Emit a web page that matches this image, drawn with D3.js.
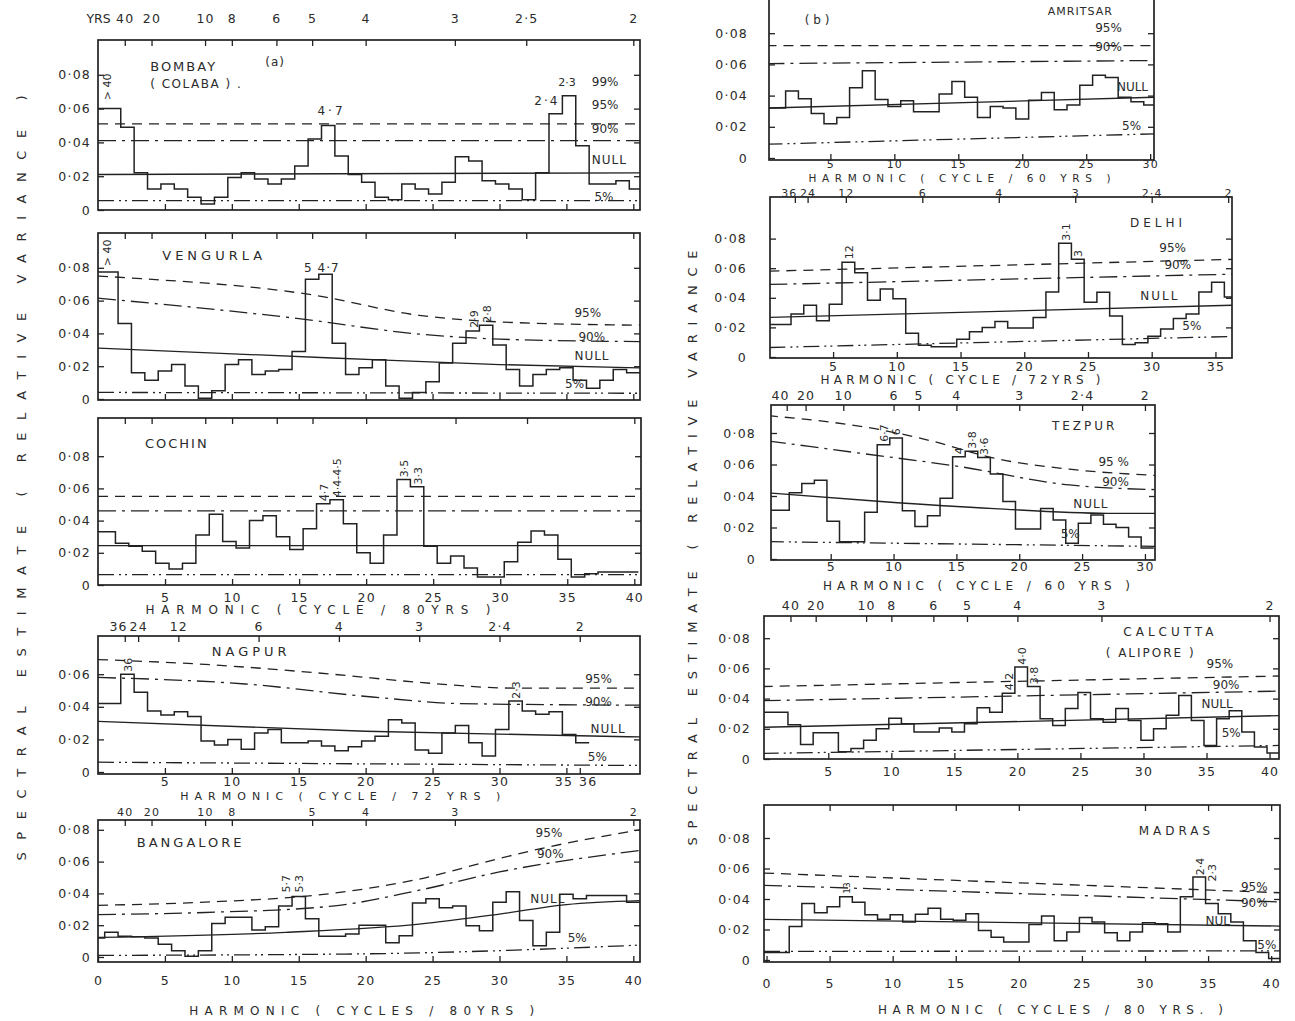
<!DOCTYPE html>
<html lang="en">
<head>
<meta charset="utf-8">
<title>Spectral estimates of rainfall series</title>
<script src="https://cdn.jsdelivr.net/npm/d3@7"></script>
<style>
  body { margin: 0; background: #fff; }
  svg { display: block; }
  text { font-family: "DejaVu Sans", sans-serif; fill: #2b2b2b; }
  .frame { fill: none; stroke: #222; stroke-width: 1.7; }
  .spec { fill: none; stroke: #222; stroke-width: 1.5; }
  .ln { fill: none; stroke: #222; stroke-width: 1.3; }
  .l95 { stroke-dasharray: 10,7; }
  .l90 { stroke-dasharray: 18,6,3,6; }
  .l5 { stroke-dasharray: 16,5,2,4,2,5; }
  .axis path.domain { display: none; }
  .axis line { stroke: #222; stroke-width: 1.3; }
  .axis text { font-size: 12.5px; letter-spacing: 1.2px; fill: #2b2b2b; }
  .axis.small text { font-size: 11px; }
  .htitle { font-size: 12px; }
  .ylab { font-size: 13px; }
</style>
</head>
<body>
<svg width="1295" height="1021"></svg>
<script>

// ---- spectral estimates, one value per harmonic ----
var bombaySpec = [0.060, 0.049, 0.022, 0.0124, 0.0154, 0.0124, 0.0075, 0.0035, 0.0075, 0.0193,
  0.022, 0.0183, 0.0154, 0.0183, 0.026, 0.042, 0.050, 0.032, 0.021, 0.0164,
  0.0075, 0.006, 0.0154, 0.0124, 0.0095, 0.0164, 0.0315, 0.029, 0.0173, 0.0154,
  0.0124, 0.006, 0.022, 0.057, 0.0676, 0.038, 0.0154, 0.0154, 0.0173, 0.0124];
var vengurlaSpec = [0.0775, 0.046, 0.016, 0.0115, 0.017, 0.021, 0.008, 0.0005, 0.005, 0.021,
  0.024, 0.015, 0.017, 0.018, 0.029, 0.073, 0.076, 0.034, 0.015, 0.019,
  0.024, 0.008, 0.0005, 0.004, 0.0105, 0.022, 0.034, 0.0415, 0.045, 0.033,
  0.018, 0.008, 0.015, 0.018, 0.019, 0.0115, 0.0065, 0.0115, 0.018, 0.016];
var cochinSpec = [0.033, 0.026, 0.024, 0.021, 0.0135, 0.010, 0.0135, 0.031, 0.044, 0.027,
  0.023, 0.040, 0.043, 0.030, 0.022, 0.035, 0.0505, 0.053, 0.038, 0.020,
  0.0135, 0.031, 0.0655, 0.061, 0.024, 0.0135, 0.018, 0.0105, 0.005, 0.005,
  0.0145, 0.0265, 0.0335, 0.031, 0.016, 0.005, 0.007, 0.008, 0.008, 0.008];
var nagpurSpec = [0.042, 0.060, 0.049, 0.0375, 0.035, 0.037, 0.034, 0.019, 0.0165, 0.020,
  0.014, 0.024, 0.026, 0.018, 0.018, 0.019, 0.016, 0.013, 0.0155, 0.019,
  0.022, 0.032, 0.030, 0.0135, 0.0115, 0.024, 0.0285, 0.018, 0.0098, 0.026,
  0.0435, 0.0375, 0.0355, 0.037, 0.023, 0.018];
var bangaloreSpec = [0.012, 0.0155, 0.013, 0.0127, 0.012, 0.008, 0.004, 0.0005, 0.004, 0.021,
  0.025, 0.025, 0.017, 0.019, 0.032, 0.038, 0.024, 0.013, 0.013, 0.0145,
  0.020, 0.020, 0.009, 0.0133, 0.034, 0.0366, 0.031, 0.032, 0.0197, 0.0165,
  0.0345, 0.041, 0.023, 0.007, 0.0155, 0.0395, 0.0366, 0.0387, 0.0387, 0.0387, 0.0345];
var amritsarSpec = [0.032, 0.043, 0.038, 0.0285, 0.022, 0.026, 0.045, 0.056, 0.0375, 0.033,
  0.0367, 0.0296, 0.0296, 0.041, 0.049, 0.039, 0.026, 0.033, 0.032, 0.025,
  0.037, 0.042, 0.031, 0.034, 0.0467, 0.053, 0.0516, 0.039, 0.036, 0.034];
var delhiSpec = [0.022, 0.029, 0.035, 0.0245, 0.0356, 0.064, 0.057, 0.0384, 0.046, 0.0394,
  0.016, 0.008, 0.007, 0.007, 0.012, 0.017, 0.020, 0.024, 0.0196, 0.0196,
  0.0267, 0.044, 0.0768, 0.066, 0.037, 0.0437, 0.0277, 0.0085, 0.0096, 0.014,
  0.019, 0.026, 0.029, 0.044, 0.0505, 0.0405];
var tezpurSpec = [0.031, 0.042, 0.048, 0.050, 0.024, 0.011, 0.011, 0.0297, 0.0726, 0.0769,
  0.0306, 0.0206, 0.0274, 0.0386, 0.065, 0.0684, 0.0645, 0.054, 0.0365, 0.019,
  0.019, 0.032, 0.0248, 0.010, 0.0227, 0.028, 0.022, 0.020, 0.014, 0.007];
var calcuttaSpec = [0.031, 0.0227, 0.0096, 0.0174, 0.0174, 0.0048, 0.007, 0.0124, 0.020, 0.027,
  0.0233, 0.0179, 0.0179, 0.0205, 0.0179, 0.0233, 0.034, 0.031, 0.0436, 0.061,
  0.048, 0.0266, 0.0222, 0.0335, 0.044, 0.0266, 0.0244, 0.0335, 0.0255, 0.0124,
  0.020, 0.029, 0.042, 0.0255, 0.009, 0.0266, 0.032, 0.0179, 0.008, 0.004];
var madrasSpec = [0.005, 0.022, 0.037, 0.031, 0.035, 0.0415, 0.0378, 0.0296, 0.0267, 0.0296,
  0.025, 0.030, 0.034, 0.0267, 0.026, 0.0304, 0.0193, 0.0149, 0.0118, 0.0118,
  0.0233, 0.0289, 0.0127, 0.0184, 0.0278, 0.025, 0.0178, 0.0127, 0.0184, 0.0244,
  0.0238, 0.0184, 0.0415, 0.0544, 0.037, 0.0304, 0.025, 0.0127, 0.005, 0.001];

// ---- significance levels: [harmonic, value] ----
var bombay95 = [[0, 0.051], [40.5, 0.051]];
var bombay90 = [[0, 0.041], [40.5, 0.041]];
var bombayNull = [[0, 0.021], [40.5, 0.022]];
var bombay5 = [[0, 0.0055], [40.5, 0.0055]];

var vengurla95 = [[0, 0.075], [2, 0.074], [16, 0.0635], [24, 0.051], [30, 0.047], [40.5, 0.045]];
var vengurla90 = [[0, 0.0615], [15, 0.049], [24, 0.0396], [30, 0.0365], [40.5, 0.035]];
var vengurlaNull = [[0, 0.031], [17.5, 0.025], [30, 0.021], [40.5, 0.019]];
var vengurla5 = [[0, 0.004], [40.5, 0.0035]];

var cochin95 = [[0, 0.055], [40.5, 0.055]];
var cochin90 = [[0, 0.046], [40.5, 0.046]];
var cochinNull = [[0, 0.0245], [40.5, 0.0245]];
var cochin5 = [[0, 0.0065], [40.5, 0.0065]];

var nagpur95 = [[0, 0.069], [8, 0.066], [17.5, 0.060], [24, 0.055], [31, 0.0515], [40.5, 0.0515]];
var nagpur90 = [[0, 0.058], [11, 0.054], [20.5, 0.046], [27, 0.042], [40.5, 0.041]];
var nagpurNull = [[0, 0.031], [20, 0.025], [40.5, 0.0215]];
var nagpur5 = [[0, 0.006], [40.5, 0.004]];

var bangalore95 = [[0, 0.0325], [8, 0.0345], [17.5, 0.040], [24, 0.049], [30, 0.062], [33, 0.068], [40.5, 0.080]];
var bangalore90 = [[0, 0.0267], [8, 0.028], [17.5, 0.032], [24, 0.042], [30, 0.0535], [40.5, 0.067]];
var bangaloreNull = [[0, 0.0123], [14, 0.0155], [24, 0.0207], [30, 0.027], [35, 0.033], [40.5, 0.0355]];
var bangalore5 = [[0, 0.001], [20, 0.002], [30, 0.004], [40.5, 0.0075]];

var amritsar95 = [[0, 0.072], [30.5, 0.072]];
var amritsar90 = [[0, 0.0605], [30.5, 0.0625]];
var amritsarNull = [[0, 0.032], [30.5, 0.039]];
var amritsar5 = [[0, 0.0088], [30.5, 0.0155]];

var delhi95 = [[0, 0.058], [36.5, 0.066]];
var delhi90 = [[0, 0.049], [36.5, 0.056]];
var delhiNull = [[0, 0.0267], [36.5, 0.035]];
var delhi5 = [[0, 0.0064], [36.5, 0.0139]];

var tezpur95 = [[0, 0.091], [9, 0.082], [13, 0.075], [18, 0.064], [24, 0.057], [31, 0.053]];
var tezpur90 = [[0, 0.075], [7.5, 0.067], [15, 0.059], [24, 0.047], [31, 0.044]];
var tezpurNull = [[0, 0.042], [9, 0.0365], [18, 0.032], [27, 0.029], [31, 0.029]];
var tezpur5 = [[0, 0.011], [31, 0.008]];

var calcutta95 = [[-0.2, 0.048], [41, 0.055]];
var calcutta90 = [[-0.2, 0.0386], [41, 0.045]];
var calcuttaNull = [[-0.2, 0.021], [41, 0.0288]];
var calcutta5 = [[-0.2, 0.0037], [41, 0.009]];

var madras95 = [[-0.2, 0.057], [41, 0.044]];
var madras90 = [[-0.2, 0.049], [41, 0.038]];
var madrasNull = [[-0.2, 0.0267], [41, 0.0222]];
var madras5 = [[-0.2, 0.0056], [41, 0.006]];

// ---- tick labels ----
var yTicks = [0, 0.02, 0.04, 0.06, 0.08];
var yTicksNagpur = [0, 0.02, 0.04, 0.06];
var harm5to40 = [5, 10, 15, 20, 25, 30, 35, 40];
var harm0to40 = [0, 5, 10, 15, 20, 25, 30, 35, 40];
var harm5to30 = [5, 10, 15, 20, 25, 30];
var harm5to35 = [5, 10, 15, 20, 25, 30, 35];
var harmNagpur = [5, 10, 15, 20, 25, 30, 35, 36];
var yrsBombay = [40, 20, 10, 8, 6, 5, 4, 3, 2.5, 2];
var yrsNagpur = [36, 24, 12, 6, 4, 3, 2.4, 2];
var yrsBangalore = [40, 20, 10, 8, 5, 4, 3, 2];
var yrsDelhi = [36, 24, 12, 6, 4, 3, 2.4, 2];
var yrsTezpur = [40, 20, 10, 6, 5, 4, 3, 2.4, 2];
var yrsCalcutta = [40, 20, 10, 8, 6, 5, 4, 3, 2];

// ---- panel layout (pixels) and annotations (harmonic, value) ----
var L = [98, 640], R2 = [764, 1279];
var panels = [
  { name: "bombay", spec: bombaySpec, first: 1, off: 0.2, lines: [bombay95, bombay90, bombayNull, bombay5],
    xr: L, xd: [0, 40.5], zero: 210, per: 16.9, top: 40, bottom: 210, yt: yTicks, ypad: 7,
    bt: harm5to40, bl: false, yrs: yrsBombay, base: 80, tl: true, tpad: 17, yrsWord: true,
    notes: [[3.9, 0.082, "BOMBAY", 0, 2, 13], [3.9, 0.072, "( COLABA ) .", 0, 1.5, 12],
      [12.5, 0.085, "(a)", 0, 1, 12], [0.95, 0.065, "> 40", 1, 0, 11], [16.4, 0.056, "4·7", 0, 3, 12],
      [32.6, 0.062, "2·4", 0, 2, 12], [34.4, 0.0735, "2·3", 0, 0, 11], [36.9, 0.0735, "99%", 0, 0, 12],
      [36.9, 0.060, "95%", 0, 0, 12], [36.9, 0.0455, "90%", 0, 0, 12], [36.9, 0.0275, "NULL", 0, 1, 12],
      [37.1, 0.0055, "5%", 0, 0, 12]] },
  { name: "vengurla", spec: vengurlaSpec, first: 1, off: 0, lines: [vengurla95, vengurla90, vengurlaNull, vengurla5],
    xr: L, xd: [0, 40.5], zero: 399, per: 16.4, top: 233, bottom: 400, yt: yTicks, ypad: 7,
    bt: harm5to40, bl: false, yrs: yrsBombay, base: 80, tl: false,
    notes: [[4.8, 0.085, "VENGURLA", 0, 4, 13], [0.95, 0.081, "> 40", 1, 0, 11], [15.4, 0.0775, "5 4·7", 0, 1, 12],
      [28.4, 0.0435, "2·9", 1, 0, 11], [29.4, 0.0465, "2·8", 1, 0, 11],
      [35.6, 0.050, "95%", 0, 0, 12], [35.9, 0.0355, "90%", 0, 0, 12], [35.6, 0.0235, "NULL", 0, 1, 12],
      [34.9, 0.0065, "5%", 0, 0, 12]] },
  { name: "cochin", spec: cochinSpec, first: 1, off: -0.2, lines: [cochin95, cochin90, cochinNull, cochin5],
    xr: [98, 641], xd: [0, 40.5], zero: 585, per: 16.1, top: 418, bottom: 585, yt: yTicks, ypad: 7,
    bt: harm5to40, bl: true, bpad: 8, yrs: yrsBombay, base: 80, tl: false,
    title: { text: "HARMONIC  ( CYCLE  /  80YRS )", h: 16.4, dy: 29, len: 345 },
    notes: [[3.5, 0.085, "COCHIN", 0, 2, 13], [17.15, 0.052, "4·7", 1, 0, 11], [18.15, 0.0545, "4·4-4·5", 1, 0, 11],
      [23.15, 0.067, "3·5", 1, 0, 11], [24.15, 0.0625, "3·3", 1, 0, 11]] },
  { name: "nagpur", spec: nagpurSpec, first: 1, off: 0.2, lines: [nagpur95, nagpur90, nagpurNull, nagpur5],
    xr: L, xd: [0, 40.5], zero: 772, per: 16.3, top: 636, bottom: 774, yt: yTicksNagpur, ypad: 7,
    bt: harmNagpur, bl: true, bpad: 3, spreadEnd: true, yrs: yrsNagpur, base: 72, tl: true, tpad: 5, firstEnd: true,
    title: { text: "HARMONIC  ( CYCLE  /  72 YRS )", h: 18.1, dy: 26, len: 320, size: 11 },
    notes: [[8.5, 0.071, "NAGPUR", 0, 4, 13], [2.55, 0.0615, "36", 1, 0, 11], [31.55, 0.045, "2·3", 1, 0, 11],
      [36.4, 0.0545, "95%", 0, 0, 12], [36.4, 0.0405, "90%", 0, 0, 12], [36.8, 0.024, "NULL", 0, 1, 12],
      [36.6, 0.007, "5%", 0, 0, 12]] },
  { name: "bangalore", spec: bangaloreSpec, first: 0, off: 0, lines: [bangalore95, bangalore90, bangaloreNull, bangalore5],
    xr: L, xd: [0, 40.5], zero: 957, per: 15.9, top: 820, bottom: 962, yt: yTicks, ypad: 7,
    bt: harm0to40, bl: true, bpad: 14, yrs: yrsBangalore, base: 80, tl: true, tpad: 4, tsmall: true,
    title: { text: "HARMONIC ( CYCLES / 80YRS )", h: 19.7, dy: 53, len: 345 },
    notes: [[2.9, 0.069, "BANGALORE", 0, 3, 13], [14.35, 0.0405, "5·7", 1, 0, 11], [15.35, 0.0405, "5·3", 1, 0, 11],
      [32.7, 0.0755, "95%", 0, 0, 12], [32.8, 0.062, "90%", 0, 0, 12], [32.3, 0.034, "NULL", 0, 1, 12],
      [35.1, 0.0094, "5%", 0, 0, 12]] },
  { name: "amritsar", spec: amritsarSpec, first: 1, off: 0, lines: [amritsar95, amritsar90, amritsarNull, amritsar5],
    xr: [769, 1154], xd: [0.2, 30.3], zero: 158, per: 15.6, top: -8, bottom: 160, yt: yTicks, ypad: 21,
    bt: harm5to30, bl: true, bpad: 0, bsmall: true, yrs: null,
    title: { text: "HARMONIC ( CYCLE / 60 YRS )", h: 15.1, dy: 22, len: 302, size: 10.5 },
    notes: [[3.0, 0.086, "( b )", 0, 0, 12], [22.0, 0.0915, "AMRITSAR", 0, 1, 11],
      [25.7, 0.0805, "95%", 0, 0, 12], [25.7, 0.0685, "90%", 0, 0, 12], [27.4, 0.043, "NULL", 0, 0, 12],
      [27.8, 0.018, "5%", 0, 0, 12]] },
  { name: "delhi", spec: delhiSpec, first: 1, off: 0.2, lines: [delhi95, delhi90, delhiNull, delhi5],
    xr: [770, 1232], xd: [0.05, 36.3], zero: 357, per: 14.8, top: 197, bottom: 358, yt: yTicks, ypad: 23,
    bt: harm5to35, bl: true, bpad: 4, yrs: yrsDelhi, base: 72, tl: true, tpad: 0, tsmall: true, firstEnd: true,
    title: { text: "HARMONIC ( CYCLE / 72YRS )", h: 15.0, dy: 26, len: 280 },
    notes: [[28.3, 0.088, "DELHI", 0, 4, 12], [6.55, 0.066, "12", 1, 0, 11], [23.55, 0.0785, "3·1", 1, 0, 11],
      [24.55, 0.0675, "3", 1, 0, 11], [30.6, 0.071, "95%", 0, 0, 12], [31.0, 0.0595, "90%", 0, 0, 12],
      [29.1, 0.0385, "NULL", 0, 2, 12], [32.4, 0.018, "5%", 0, 0, 12]] },
  { name: "tezpur", spec: tezpurSpec, first: 1, off: 0.2, lines: [tezpur95, tezpur90, tezpurNull, tezpur5],
    xr: [771, 1155], xd: [0.25, 30.8], zero: 559, per: 15.75, top: 405, bottom: 560, yt: yTicks, ypad: 15,
    bt: harm5to30, bl: true, bpad: 2, yrs: yrsTezpur, base: 60, tl: true, tpad: 5, firstEnd: true,
    title: { text: "HARMONIC  ( CYCLE  /  60 YRS )", h: 16.6, dy: 30, len: 307 },
    notes: [[22.6, 0.082, "TEZPUR", 0, 3, 12], [9.55, 0.0745, "6·7", 1, 0, 11], [10.55, 0.0785, "6", 1, 0, 11],
      [15.55, 0.0665, "4", 1, 0, 11], [16.55, 0.070, "3·8", 1, 0, 11], [17.55, 0.066, "3·6", 1, 0, 11],
      [26.3, 0.059, "95 %", 0, 0, 12], [26.6, 0.0465, "90%", 0, 0, 12], [24.3, 0.0325, "NULL", 0, 1, 12],
      [23.3, 0.0135, "5%", 0, 0, 12]] },
  { name: "calcutta", spec: calcuttaSpec, first: 1, off: 0.3, lines: [calcutta95, calcutta90, calcuttaNull, calcutta5],
    xr: R2, xd: [-0.1, 40.75], zero: 759, per: 15.1, top: 616, bottom: 759, yt: yTicks, ypad: 13,
    bt: harm5to40, bl: true, bpad: 8, yrs: yrsCalcutta, base: 80, tl: true, tpad: 6,
    notes: [[28.4, 0.0815, "CALCUTTA", 0, 4, 12], [27.0, 0.0675, "( ALIPORE )", 0, 2, 12],
      [19.65, 0.0455, "4·2", 1, 0, 11], [20.65, 0.0625, "4·0", 1, 0, 11], [21.65, 0.0495, "3·8", 1, 0, 11],
      [35.0, 0.0605, "95%", 0, 0, 12], [35.5, 0.0465, "90%", 0, 0, 12], [34.6, 0.0335, "NULL", 0, 0, 12],
      [36.2, 0.0145, "5%", 0, 0, 12]] },
  { name: "madras", spec: madrasSpec, first: 1, off: 0.3, lines: [madras95, madras90, madrasNull, madras5],
    xr: [764, 1280], xd: [-0.2, 40.7], zero: 960, per: 15.25, top: 805, bottom: 962, yt: yTicks, ypad: 13,
    bt: harm0to40, bl: true, bpad: 17, yrs: null, topTicks: harm5to40,
    title: { text: "HARMONIC  ( CYCLES  /  80 YRS. )", h: 22.5, dy: 52, len: 345 },
    notes: [[29.5, 0.082, "MADRAS", 0, 4, 12], [6.65, 0.0435, "13", 1, 0, 9], [34.65, 0.0555, "2·4", 1, 0, 11],
      [35.65, 0.0515, "2·3", 1, 0, 11], [37.6, 0.0455, "95%", 0, 0, 12], [37.6, 0.0345, "90%", 0, 0, 12],
      [34.8, 0.023, "NUL", 0, 0, 12], [38.9, 0.0075, "5%", 0, 0, 12]] }
];

var svg = d3.select("svg");
var fmtY = function(v) { return v === 0 ? "0" : d3.format(".2f")(v).replace(".", "·"); };
var fmtP = function(v) { return String(v).replace(".", "·"); };
var lineClass = ["l95", "l90", "lnull", "l5"];

panels.forEach(function(p) {
  var yd = [(p.zero - p.bottom) / p.per * 0.01, (p.zero - p.top) / p.per * 0.01];
  var x = d3.scaleLinear().domain(p.xd).range(p.xr),
      y = d3.scaleLinear().domain(yd).range([p.bottom, p.top]);
  var g = svg.append("g").attr("class", "panel " + p.name);
  var clipId = "clip-" + p.name;

  g.append("clipPath").attr("id", clipId).append("rect")
      .attr("x", p.xr[0]).attr("y", p.top)
      .attr("width", p.xr[1] - p.xr[0]).attr("height", p.bottom - p.top);

  // significance curves
  var curve = d3.line().curve(d3.curveMonotoneX)
      .x(function(d) { return x(d[0]); })
      .y(function(d) { return y(d[1]); });
  p.lines.forEach(function(l, i) {
    g.append("path").attr("class", "ln " + lineClass[i])
        .attr("clip-path", "url(#" + clipId + ")")
        .attr("d", curve(l));
  });

  // stepped spectrum
  var pts = p.spec.map(function(v, i) { return [p.first + i - 0.5 + p.off, v]; });
  pts[0] = [p.xd[0], pts[0][1]];
  var last = p.spec.length - 1;
  pts.push([p.first + last + 0.5 + p.off, p.spec[last]]);
  var step = d3.line().curve(d3.curveStepAfter)
      .x(function(d) { return x(d[0]); })
      .y(function(d) { return y(d[1]); });
  g.append("path").attr("class", "spec")
      .attr("clip-path", "url(#" + clipId + ")")
      .attr("d", step(pts));

  // frame
  g.append("rect").attr("class", "frame")
      .attr("x", p.xr[0]).attr("y", p.top)
      .attr("width", p.xr[1] - p.xr[0]).attr("height", p.bottom - p.top);

  // axes with inward ticks
  g.append("g").attr("class", "axis")
      .attr("transform", "translate(" + p.xr[0] + ",0)")
      .call(d3.axisLeft(y).tickValues(p.yt).tickSize(-6).tickPadding(p.ypad).tickFormat(fmtY));
  g.append("g").attr("class", "axis")
      .attr("transform", "translate(" + p.xr[1] + ",0)")
      .call(d3.axisRight(y).tickValues(p.yt.filter(function(v) { return v > 0; })).tickSize(-6).tickFormat(""));
  var bAxis = g.append("g").attr("class", p.bsmall ? "axis small" : "axis")
      .attr("transform", "translate(0," + p.bottom + ")")
      .call(d3.axisBottom(x).tickValues(p.bt).tickSize(-6).tickPadding(p.bpad || 0)
        .tickFormat(p.bl ? d3.format("d") : ""));
  if (p.spreadEnd) {
    // two crowded end labels (35, 36) pushed apart
    var bt = bAxis.selectAll(".tick text").nodes();
    d3.select(bt[bt.length - 2]).attr("text-anchor", "end").attr("dx", "0.5em");
    d3.select(bt[bt.length - 1]).attr("text-anchor", "start").attr("dx", "-0.1em");
  }

  if (p.yrs) {
    var topAxis = d3.axisTop(x)
        .tickValues(p.yrs.map(function(d) { return p.base / d; }))
        .tickSize(-6).tickPadding(p.tpad || 0)
        .tickFormat(function(d, i) { return p.tl ? fmtP(p.yrs[i]) : ""; });
    var tAxis = g.append("g").attr("class", p.tsmall ? "axis small" : "axis")
        .attr("transform", "translate(0," + p.top + ")")
        .call(topAxis);
    if (p.firstEnd) {
      d3.select(tAxis.selectAll(".tick text").nodes()[0])
          .attr("text-anchor", "end").attr("dx", "0.2em");
    }
    if (p.yrsWord) {
      g.append("text").attr("class", "axis")
          .attr("x", x(p.base / p.yrs[0]) - 14).attr("y", p.top - p.tpad)
          .attr("text-anchor", "end")
          .style("font-size", "12.5px")
          .text("YRS");
    }
  } else if (p.topTicks) {
    g.append("g").attr("class", "axis")
        .attr("transform", "translate(0," + p.top + ")")
        .call(d3.axisTop(x).tickValues(p.topTicks).tickSize(-6).tickFormat(""));
  }

  // harmonic title under the panel
  if (p.title) {
    g.append("text").attr("class", "htitle")
        .attr("x", x(p.title.h)).attr("y", p.bottom + p.title.dy)
        .attr("text-anchor", "middle")
        .style("font-size", (p.title.size || 12) + "px")
        .attr("textLength", p.title.len).attr("lengthAdjust", "spacing")
        .text(p.title.text);
  }

  // station names, periods and significance labels
  p.notes.forEach(function(n) {
    var t = g.append("text").text(n[2])
        .style("font-size", n[5] + "px")
        .style("letter-spacing", n[4] + "px");
    if (n[3]) {
      t.attr("transform", "translate(" + x(n[0]) + "," + y(n[1]) + ") rotate(-90)");
    } else {
      t.attr("x", x(n[0])).attr("y", y(n[1]));
    }
  });
});

// shared vertical titles
svg.append("text").attr("class", "ylab")
    .attr("transform", "translate(26,478) rotate(-90)")
    .attr("text-anchor", "middle")
    .attr("textLength", 765).attr("lengthAdjust", "spacing")
    .text("SPECTRAL  ESTIMATE  ( RELATIVE  VARIANCE )");
svg.append("text").attr("class", "ylab")
    .attr("transform", "translate(697,548) rotate(-90)")
    .attr("text-anchor", "middle")
    .attr("textLength", 595).attr("lengthAdjust", "spacing")
    .text("SPECTRAL  ESTIMATE  ( RELATIVE  VARIANCE");

</script>
</body>
</html>
